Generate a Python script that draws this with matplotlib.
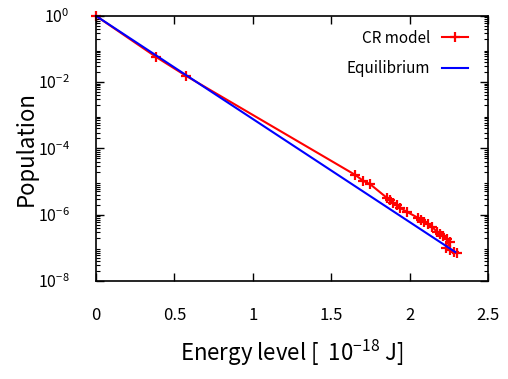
import numpy as np
import matplotlib
matplotlib.use('Agg')
import matplotlib.pyplot as plt
from matplotlib.ticker import FixedLocator, LogLocator, MultipleLocator, NullFormatter

plt.rcParams['font.family'] = ['Noto Sans CJK JP', 'DejaVu Sans']
plt.rcParams['mathtext.default'] = 'regular'

# CR model populations (energy in 1e-18 J, log10 population)
cr_energy = [0.0, 0.383, 0.574, 1.652, 1.703, 1.747, 1.856, 1.875, 1.894, 1.920,
             1.939, 1.983, 2.054, 2.073, 2.092, 2.117, 2.143, 2.175, 2.194, 2.213,
             2.239, 2.258, 2.232, 2.258, 2.283, 2.302]
cr_logpop = [0.0, -1.24, -1.81, -4.80, -4.98, -5.08, -5.50, -5.56, -5.65, -5.71,
             -5.80, -5.92, -6.10, -6.16, -6.22, -6.28, -6.37, -6.53, -6.59, -6.65,
             -6.74, -6.83, -7.01, -7.07, -7.13, -7.16]

# Equilibrium (Boltzmann) line
eq_energy = [0.0, 2.29]
eq_logpop = [0.0, -7.13]

fig = plt.figure(figsize=(5.08, 3.79), dpi=100)
ax = fig.add_axes([0.189, 0.259, 0.772, 0.699])

ax.plot(cr_energy, 10 ** np.array(cr_logpop), color='#ff0000', lw=1.5,
        marker='+', ms=7, mew=1.6, label='CR model', clip_on=False)
ax.plot(eq_energy, 10 ** np.array(eq_logpop), color='#0000ff', lw=1.5,
        label='Equilibrium', clip_on=False)

ax.set_yscale('log')
ax.set_xlim(0, 2.5)
ax.set_ylim(1e-8, 1)
ax.xaxis.set_major_locator(MultipleLocator(0.5))
ax.xaxis.set_major_formatter(plt.FuncFormatter(lambda v, p: '%g' % v))
ax.yaxis.set_major_locator(FixedLocator([1e-8, 1e-6, 1e-4, 1e-2, 1]))
ax.yaxis.set_minor_locator(LogLocator(base=10, subs=np.arange(2, 10), numticks=20))
ax.yaxis.set_minor_formatter(NullFormatter())

ax.tick_params(which='both', direction='in', top=True, right=True, labelsize=12)
ax.tick_params(axis='x', which='major', length=6, width=1, pad=19)
ax.tick_params(axis='y', which='major', length=6, width=1, pad=19, labelsize=11.5)
ax.tick_params(which='minor', length=3, width=0.8)
for s in ax.spines.values():
    s.set_linewidth(1.2)

ax.set_xlabel(r'Energy level [  $10^{-18}$ J]', fontsize=16, labelpad=10)
ax.set_ylabel('Population', fontsize=16, labelpad=0)

ax.legend(loc='upper right', bbox_to_anchor=(1.0, 1.023), frameon=False,
          markerfirst=False, fontsize=11, handlelength=1.7, labelspacing=0.9,
          borderaxespad=0.9)

fig.savefig('out.png', dpi=100)
